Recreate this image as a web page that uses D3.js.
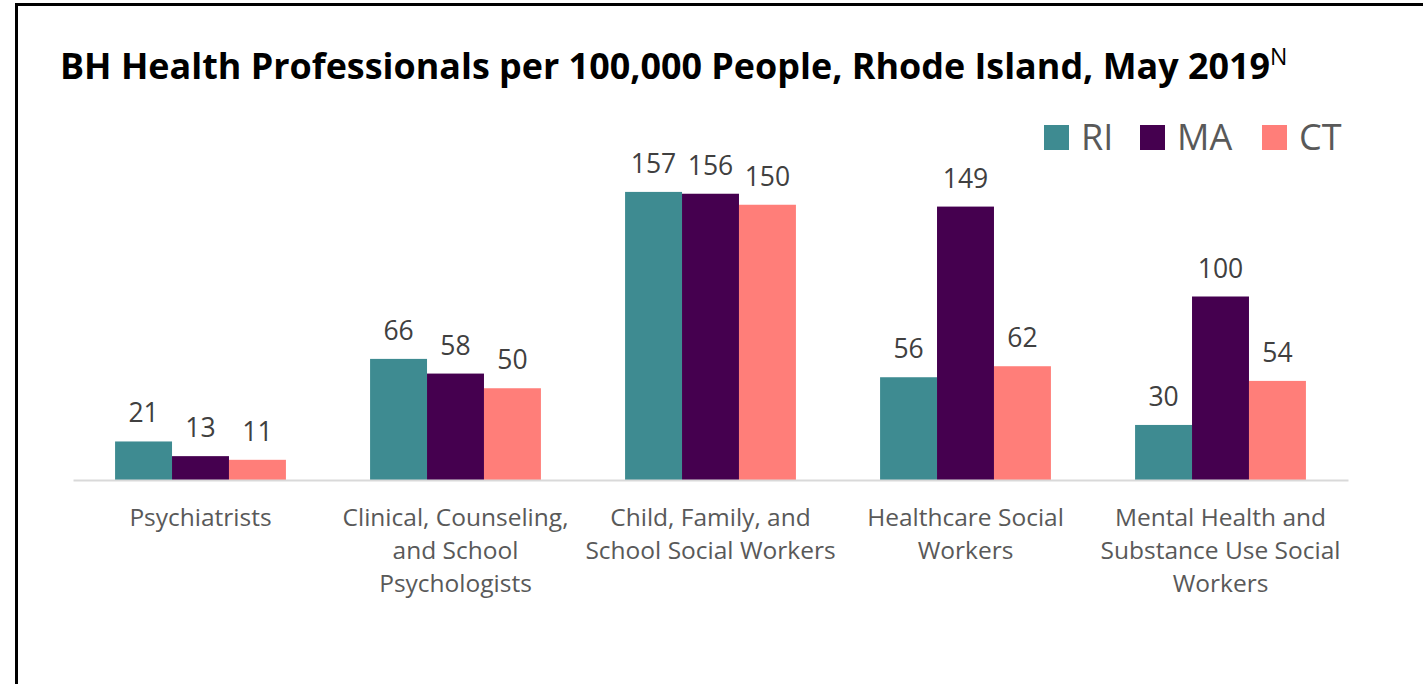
<!DOCTYPE html>
<html>
<head>
<meta charset="utf-8">
<script src="https://cdn.jsdelivr.net/npm/d3@7"></script>
<style>
  body { margin:0; background:#fff; }
  svg { display:block; font-family:"Open Sans", sans-serif; }
</style>
</head>
<body>
<script>
/////////////////////////////////////////////////////////////////////
// BH professionals per 100k, grouped bars (RI / MA / CT)
/////////////////////////////////////////////////////////////////////
var categories = ["Psychiatrists", "Clinical, Counseling, and School Psychologists",
                  "Child, Family, and School Social Workers", "Healthcare Social Workers",
                  "Mental Health and Substance Use Social Workers"];
var categoryLines = [["Psychiatrists"],
                     ["Clinical, Counseling,", "and School", "Psychologists"],
                     ["Child, Family, and", "School Social Workers"],
                     ["Healthcare Social", "Workers"],
                     ["Mental Health and", "Substance Use Social", "Workers"]];
var seriesNames = ["RI", "MA", "CT"];
var riValues = [21, 66, 157, 56, 30];
var maValues = [13, 58, 156, 149, 100];
var ctValues = [11, 50, 150, 62, 54];
var seriesColors = ["#3e8b91", "#45004f", "#ff7e79"];

var W = 1423, H = 684;
var svg = d3.select("body").append("svg").attr("width", W).attr("height", H);

// frame (only left + top edges show in the picture)
svg.append("rect")
   .attr("x", 16.5).attr("y", 4.5).attr("width", 1500).attr("height", 800)
   .attr("fill", "none").attr("stroke", "#000").attr("stroke-width", 3);

// title
var title = svg.append("text")
   .attr("x", 60).attr("y", 79)
   .attr("font-weight", "bold").attr("font-size", 35.9).attr("fill", "#000")
   .text("BH Health Professionals per 100,000 People, Rhode Island, May 2019");
title.append("tspan").attr("font-weight", "normal").attr("font-size", 23)
   .attr("dy", -14).text("N");

// scales
var series = [riValues, maValues, ctValues];
var x0 = d3.scaleBand().domain(categories).range([73, 1348])
           .paddingInner(0.33).paddingOuter(0.165);
var x1 = d3.scaleBand().domain(seriesNames).range([0, x0.bandwidth()]);
var y = d3.scaleLinear().domain([0, 180]).range([480, 480 - 180 * 1.835]);

var groups = svg.append("g").selectAll("g")
   .data(categories).join("g")
   .attr("transform", function(d){ return "translate(" + x0(d) + ",0)"; });

groups.each(function(cat, i){
   var g = d3.select(this);
   seriesNames.forEach(function(s, j){
      var v = series[j][i];
      g.append("rect")
       .attr("x", x1(s)).attr("y", y(v))
       .attr("width", x1.bandwidth()).attr("height", y(0) - y(v))
       .attr("fill", seriesColors[j]);
      g.append("text")
       .attr("x", x1(s) + x1.bandwidth() / 2).attr("y", y(v) - 19)
       .attr("text-anchor", "middle").attr("font-size", 26.5).attr("fill", "#404040")
       .text(v);
   });
});

// x axis
var xAxis = svg.append("g").attr("transform", "translate(0,480)")
   .call(d3.axisBottom(x0).tickSize(0).tickSizeOuter(0));
xAxis.select(".domain").attr("stroke", "#d9d9d9").attr("stroke-width", 2);
xAxis.selectAll(".tick text").each(function(d, i){
   var t = d3.select(this).text(null)
      .attr("y", 0).attr("dy", null)
      .attr("font-size", 24.5).attr("fill", "#595959")
      .attr("font-family", "Open Sans, sans-serif");
   categoryLines[i].forEach(function(line, k){
      t.append("tspan").attr("x", 0).attr("y", 46 + k * 33).text(line);
   });
});

// legend
var legend = svg.append("g").selectAll("g")
   .data(seriesNames).join("g");
var legendX = [1044, 1140, 1262];
legend.append("rect")
   .attr("x", function(d, i){ return legendX[i]; }).attr("y", 125)
   .attr("width", 25).attr("height", 25)
   .attr("fill", function(d, i){ return seriesColors[i]; });
legend.append("text")
   .attr("x", function(d, i){ return legendX[i] + 37; }).attr("y", 150)
   .attr("font-size", 36).attr("fill", "#595959")
   .text(function(d){ return d; });
</script>
</body>
</html>
